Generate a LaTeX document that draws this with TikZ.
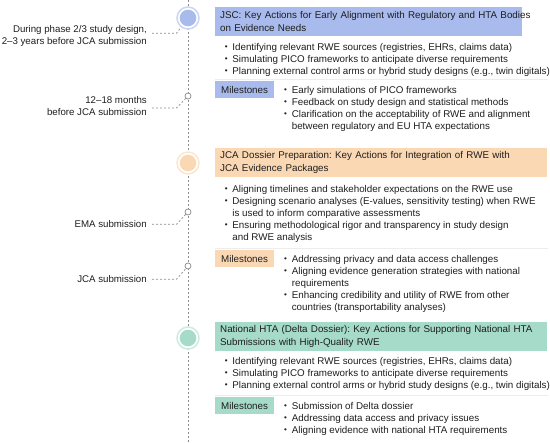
\documentclass[tikz,border=0pt]{standalone}
\usepackage{fontspec}
\setmainfont{Liberation Sans}
\frenchspacing
\definecolor{ink}{HTML}{1E1E1E}
\definecolor{rule}{HTML}{8C8C8C}
\definecolor{jscblue}{HTML}{A9BAEC}
\definecolor{jscring}{HTML}{CBD5F4}
\definecolor{jcapeach}{HTML}{FAD8B4}
\definecolor{jcaring}{HTML}{FCE6CF}
\definecolor{htagreen}{HTML}{A5DBC8}
\definecolor{htaring}{HTML}{CDEBDF}
\newcommand{\dt}{\raisebox{0.7pt}{\fontsize{8}{8}\selectfont\textbullet}}
\newcommand{\dotlist}[1]{\begin{tabular}[t]{@{}l@{\hspace{4.8pt}}l@{}}#1\end{tabular}}
\begin{document}
\begin{tikzpicture}[x=1pt,y=-1pt,
	every node/.style={text=ink,font=\fontsize{9.8}{12}\selectfont},
	axis/.style={draw=rule,line width=0.7pt,dash pattern=on 2pt off 2pt},
	link/.style={axis},
	bigdot/.style 2 args={circle,minimum size=22pt,inner sep=0pt,draw=#2,line width=1.5pt,fill=white,
		path picture={\fill[#1] (path picture bounding box.center) circle (8.3pt);}},
	smalldot/.style={circle,minimum size=6pt,inner sep=0pt,draw=rule,fill=white,line width=0.7pt},
	when/.style={anchor=east,align=right,inner sep=0pt,font=\fontsize{9.7}{12}\selectfont},
	head/.style={fill=#1,anchor=north west,text width=297pt,minimum height=29pt,inner xsep=5pt,inner ysep=2pt,
		align=left,font=\fontsize{9.8}{13}\selectfont},
	mile/.style={fill=#1,anchor=north west,minimum height=17pt,inner xsep=6pt,inner ysep=0pt,
		text height=7.1pt,text depth=0pt},
	list/.style={anchor=base west,inner sep=0pt},
	split/.style={draw=black!7,line width=0.6pt}]
\useasboundingbox (0,0) rectangle (550,443);
\draw[axis] (188,0) -- (188,443);
\node[bigdot={jscblue}{jscring}] (c1) at (188,18) {};
\node[bigdot={jcapeach}{jcaring}] (c2) at (188,163) {};
\node[bigdot={htagreen}{htaring}] (c3) at (188,338) {};
\node[smalldot] (s1) at (188,96) {};
\node[smalldot] (s2) at (188,212) {};
\node[smalldot] (s3) at (188,266) {};
\node[when] (w1) at (147,36) {During phase 2/3 study design,\\2--3 years before JCA submission};
\node[when] (w2) at (147,106.5) {12--18 months\\before JCA submission};
\node[when] (w3) at (147,224.3) {EMA submission};
\node[when] (w4) at (147,279.3) {JCA submission};
\draw[link] ([xshift=5pt,yshift=2.7pt]w1.east) -- ++(24.5,0) -- (c1);
\draw[link] ([xshift=5pt,yshift=-1.5pt]w2.east) -- ++(24.5,0) -- (s1);
\draw[link] ([xshift=5pt]w3.east) -- ++(24.5,0) -- (s2);
\draw[link] ([xshift=5pt]w4.east) -- ++(24.5,0) -- (s3);
% JSC
\node[head=jscblue] (h1) at (215,7) {\mbox{JSC: Key Actions for Early Alignment with Regulatory and HTA Bodies}\\on Evidence Needs};
\node[list] (a1) at (224.6,50.6) {\dotlist{\dt & Identifying relevant RWE sources (registries, EHRs, claims data)\\
	\dt & Simulating PICO frameworks to anticipate diverse requirements\\
	\dt & Planning external control arms or hybrid study designs (e.g., twin digitals)}};
\draw[split] (215,79) -- (548,79);
\node[mile=jscblue] (m1) at (215,81) {Milestones};
\node[list] (b1) at ([xshift=9.8pt]m1.base east) {\dotlist{\dt & Early simulations of PICO frameworks\\
	\dt & Feedback on study design and statistical methods\\
	\dt & Clarification on the acceptability of RWE and alignment\\
	& between regulatory and EU HTA expectations}};
% JCA dossier
\node[head=jcapeach,text width=322pt] (h2) at (215,148) {\mbox{JCA Dossier Preparation: Key Actions for Integration of RWE with}\\JCA Evidence Packages};
\node[list] (a2) at (224.6,192.6) {\dotlist{\dt & Aligning timelines and stakeholder expectations on the RWE use\\
	\dt & Designing scenario analyses (E-values, sensitivity testing) when RWE\\
	& is used to inform comparative assessments\\
	\dt & Ensuring methodological rigor and transparency in study design\\
	& and RWE analysis}};
\draw[split] (215,248) -- (548,248);
\node[mile=jcapeach] (m2) at (215,250) {Milestones};
\node[list] (b2) at ([xshift=9.8pt]m2.base east) {\dotlist{\dt & Addressing privacy and data access challenges\\
	\dt & Aligning evidence generation strategies with national\\
	& requirements\\
	\dt & Enhancing credibility and utility of RWE from other\\
	& countries (transportability analyses)}};
% national HTA
\node[head=htagreen,text width=322pt] (h3) at (215,322) {\mbox{National HTA (Delta Dossier): Key Actions for Supporting National HTA}\\Submissions with High-Quality RWE};
\node[list] (a3) at (224.6,364.6) {\dotlist{\dt & Identifying relevant RWE sources (registries, EHRs, claims data)\\
	\dt & Simulating PICO frameworks to anticipate diverse requirements\\
	\dt & Planning external control arms or hybrid study designs (e.g., twin digitals)}};
\draw[split] (215,395) -- (548,395);
\node[mile=htagreen] (m3) at (215,397) {Milestones};
\node[list] (b3) at ([xshift=9.8pt]m3.base east) {\dotlist{\dt & Submission of Delta dossier\\
	\dt & Addressing data access and privacy issues\\
	\dt & Aligning evidence with national HTA requirements}};
\end{tikzpicture}
\end{document}
